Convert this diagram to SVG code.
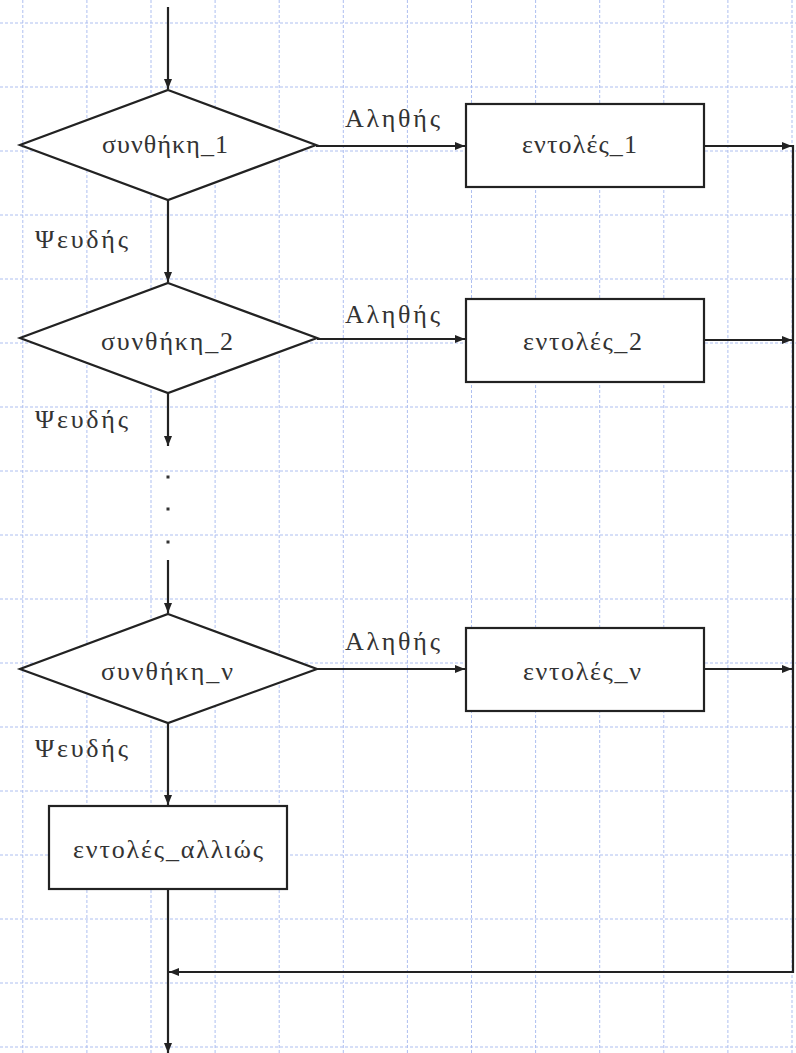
<svg xmlns="http://www.w3.org/2000/svg" width="796" height="1053" viewBox="0 0 796 1053">
<style>
.grid{stroke:#aebff0;stroke-width:1;stroke-dasharray:3 2;fill:none}
.shape{fill:#fff;stroke:#222;stroke-width:2.2}
.line{stroke:#222;stroke-width:2.2;fill:none}
.lbl{font-family:"Liberation Serif","Times New Roman","DejaVu Serif",serif;font-size:26px;fill:#333}
</style>
<defs>
<marker id="ah" markerUnits="userSpaceOnUse" markerWidth="10" markerHeight="8" refX="10" refY="4" orient="auto">
<path d="M0,0 L10,4 L0,8 Z" fill="#222"/>
</marker>
</defs>
<rect width="796" height="1053" fill="#fff"/>
<g id="grid">
<path class="grid" d="M22.8,0V1053M86.9,0V1053M151,0V1053M215.1,0V1053M279.2,0V1053M343.3,0V1053M407.4,0V1053M471.5,0V1053M535.6,0V1053M599.7,0V1053M663.8,0V1053M727.9,0V1053M792,0V1053"/>
<path class="grid" d="M0,23H796M0,87H796M0,151H796M0,215H796M0,279H796M0,343H796M0,407H796M0,471H796M0,535H796M0,599H796M0,663H796M0,727H796M0,791H796M0,855H796M0,919H796M0,983H796M0,1047H796"/>
</g>
<g id="connectors">
<path class="line" d="M168,7V89" marker-end="url(#ah)"/>
<path class="line" d="M168,200V282" marker-end="url(#ah)"/>
<path class="line" d="M168,393V446" marker-end="url(#ah)"/>
<rect x="166.5" y="475.5" width="3" height="3" fill="#333"/>
<rect x="166.5" y="507.5" width="3" height="3" fill="#333"/>
<rect x="166.5" y="540.5" width="3" height="3" fill="#333"/>
<path class="line" d="M168,560V613" marker-end="url(#ah)"/>
<path class="line" d="M168,723V805" marker-end="url(#ah)"/>
<path class="line" d="M168,889V1053" marker-end="url(#ah)"/>
<path class="line" d="M316,146H465" marker-end="url(#ah)"/>
<path class="line" d="M317,339H465" marker-end="url(#ah)"/>
<path class="line" d="M317,669H465" marker-end="url(#ah)"/>
<path class="line" d="M704,146H792" marker-end="url(#ah)"/>
<path class="line" d="M704,340H792" marker-end="url(#ah)"/>
<path class="line" d="M704,669H792" marker-end="url(#ah)"/>
<path class="line" d="M793,145V972H169" marker-end="url(#ah)"/>
</g>
<g id="cond1">
<path class="shape" d="M168,90L316,145L168,200L20,145Z"/>
<text class="lbl" x="102" y="153" textLength="126" lengthAdjust="spacing">συνθήκη_1</text>
</g>
<g id="cond2">
<path class="shape" d="M168,283L317,338L168,393L20,338Z"/>
<text class="lbl" x="101" y="350" textLength="132" lengthAdjust="spacing">συνθήκη_2</text>
</g>
<g id="condn">
<path class="shape" d="M168,614L317,669L168,723L20,669Z"/>
<text class="lbl" x="101" y="680" textLength="132" lengthAdjust="spacing">συνθήκη_ν</text>
</g>
<g id="stmt1">
<rect class="shape" x="466" y="104" width="238" height="83"/>
<text class="lbl" x="522" y="153" textLength="115" lengthAdjust="spacing">εντολές_1</text>
</g>
<g id="stmt2">
<rect class="shape" x="466" y="299" width="238" height="83"/>
<text class="lbl" x="523" y="350" textLength="119" lengthAdjust="spacing">εντολές_2</text>
</g>
<g id="stmtn">
<rect class="shape" x="466" y="628" width="238" height="83"/>
<text class="lbl" x="523" y="680" textLength="118" lengthAdjust="spacing">εντολές_ν</text>
</g>
<g id="stmtelse">
<rect class="shape" x="49" y="806" width="238" height="83"/>
<text class="lbl" x="73" y="858" textLength="190" lengthAdjust="spacing">εντολές_αλλιώς</text>
</g>
<g id="labels">
<text class="lbl" x="345" y="127" textLength="95" lengthAdjust="spacing">Αληθής</text>
<text class="lbl" x="345" y="323" textLength="95" lengthAdjust="spacing">Αληθής</text>
<text class="lbl" x="345" y="650" textLength="95" lengthAdjust="spacing">Αληθής</text>
<text class="lbl" x="35" y="248" textLength="93" lengthAdjust="spacing">Ψευδής</text>
<text class="lbl" x="35" y="428" textLength="93" lengthAdjust="spacing">Ψευδής</text>
<text class="lbl" x="35" y="757" textLength="93" lengthAdjust="spacing">Ψευδής</text>
</g>
</svg>
